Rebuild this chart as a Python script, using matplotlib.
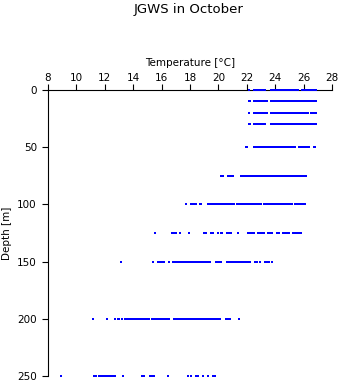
# Import libraries
import matplotlib
matplotlib.use('Agg')
import matplotlib.pyplot as plt

# Data: temperatures [degC] at each depth [m]
depths = [0, 10, 20, 30, 50, 75, 100, 125, 150, 200, 250]

t0 = [22.15, 22.5, 22.6, 22.7, 22.8, 22.9, 23.0, 23.1, 23.2, 23.3,
      23.7, 23.8, 23.9, 24.0, 24.1, 24.2, 24.3, 24.4, 24.5, 24.6, 24.7, 24.8, 24.9,
      25.0, 25.1, 25.2, 25.3, 25.4, 25.5, 25.6,
      25.9, 26.0, 26.1, 26.2, 26.3, 26.4, 26.5, 26.6, 26.7, 26.8, 26.9]
t10 = [22.15, 22.2, 22.5, 22.6, 22.7, 22.8, 22.9, 23.0, 23.1, 23.2, 23.3, 23.4,
       23.7, 23.8, 23.9, 24.0, 24.1, 24.2, 24.3, 24.4, 24.5, 24.6, 24.7, 24.8, 24.9,
       25.0, 25.1, 25.2, 25.3, 25.4, 25.5, 25.6, 25.7, 25.8, 25.9,
       26.0, 26.1, 26.2, 26.3, 26.4, 26.5, 26.6, 26.7, 26.8, 26.9]
t20 = [22.15, 22.5, 22.6, 22.7, 22.8, 22.9, 23.0, 23.1, 23.2, 23.3, 23.4,
       23.7, 23.8, 23.9, 24.0, 24.1, 24.2, 24.3, 24.4, 24.5, 24.6, 24.7, 24.8, 24.9,
       25.0, 25.1, 25.2, 25.3, 25.4, 25.5, 25.6, 25.7, 25.8, 25.9,
       26.0, 26.1, 26.2, 26.3, 26.5, 26.6, 26.7, 26.8, 26.9]
t30 = [22.15, 22.2, 22.5, 22.6, 22.7, 22.8, 22.9, 23.0, 23.1, 23.2, 23.3,
       23.7, 23.8, 23.9, 24.0, 24.1, 24.2, 24.3, 24.4, 24.5, 24.6, 24.7, 24.8, 24.9,
       25.0, 25.1, 25.2, 25.3, 25.4, 25.5, 25.6, 25.7, 25.8, 25.9,
       26.0, 26.1, 26.2, 26.3, 26.4, 26.5, 26.6, 26.7, 26.8, 26.9]
t50 = [21.95, 22.0, 22.5, 22.6, 22.7, 22.8, 22.9, 23.0, 23.1, 23.2, 23.3, 23.4,
       23.5, 23.6, 23.7, 23.8, 23.9, 24.0, 24.1, 24.2, 24.3, 24.4, 24.5, 24.6, 24.7,
       24.8, 24.9, 25.0, 25.1, 25.2, 25.3, 25.4,
       25.7, 25.8, 25.9, 26.0, 26.1, 26.2, 26.3, 26.4, 26.7, 26.8]
t75 = [20.15, 20.3, 20.7, 20.8, 20.9, 21.0,
       21.6, 21.7, 21.8, 21.9, 22.0, 22.1, 22.2, 22.3, 22.4, 22.5, 22.6, 22.7, 22.8,
       22.9, 23.0, 23.1, 23.2, 23.3, 23.4, 23.5, 23.6, 23.7, 23.8, 23.9, 24.0, 24.1,
       24.2, 24.3, 24.4, 24.5, 24.6, 24.7, 24.8, 24.9, 25.0, 25.1, 25.2, 25.3, 25.4,
       25.5, 25.6, 25.7, 25.8, 25.9, 26.0, 26.1, 26.2]
t100 = [17.7, 18.1, 18.2, 18.3, 18.4, 18.7, 18.8,
        19.3, 19.4, 19.5, 19.6, 19.7, 19.8, 19.9, 20.0, 20.1, 20.2, 20.3, 20.4, 20.5,
        20.6, 20.7, 20.8, 20.9, 21.0, 21.1, 21.3, 21.4, 21.5, 21.6, 21.7, 21.8, 21.9,
        22.0, 22.1, 22.2, 22.3, 22.4, 22.5, 22.6, 22.7, 22.8, 22.9, 23.0, 23.2, 23.3,
        23.4, 23.5, 23.6, 23.7, 23.8, 23.9, 24.0, 24.1, 24.2, 24.3, 24.4, 24.5, 24.6,
        24.7, 24.8, 24.9, 25.0, 25.1, 25.2, 25.4, 25.5, 25.6, 25.7, 25.8, 25.9, 26.0, 26.1]
t125 = [15.55, 16.75, 16.9, 17.0, 17.3, 17.9, 19.0, 19.1, 19.5, 19.65,
        20.0, 20.15, 20.25, 20.6, 20.75, 20.9, 21.4,
        22.1, 22.25, 22.4, 22.5, 22.8, 22.95, 23.1, 23.2, 23.5, 23.65, 23.8,
        24.1, 24.25, 24.55, 24.7, 24.85, 24.95, 25.25, 25.4, 25.55, 25.7, 25.8]
t150 = [13.15, 15.4, 15.75, 15.9, 16.05, 16.2, 16.55,
        16.8, 16.9, 17.0, 17.1, 17.2, 17.3, 17.4, 17.5, 17.6, 17.7, 17.8, 17.9, 18.0,
        18.1, 18.2, 18.3, 18.4, 18.5, 18.6, 18.7, 18.8, 18.9, 19.0, 19.1, 19.2, 19.3, 19.4,
        19.8, 19.95, 20.1, 20.2,
        20.6, 20.7, 20.8, 20.9, 21.0, 21.1, 21.2, 21.3, 21.4, 21.5, 21.6, 21.7, 21.8,
        21.9, 22.0, 22.1, 22.2,
        22.6, 22.75, 22.9, 23.25, 23.4, 23.55, 23.8]
t200 = [11.2, 12.15, 12.75, 12.9, 13.0, 13.2,
        13.4, 13.5, 13.6, 13.7, 13.8, 13.9, 14.0, 14.1, 14.2, 14.3, 14.4, 14.5, 14.6,
        14.7, 14.8, 14.9, 15.0, 15.1, 15.35, 15.45, 15.55, 15.65, 15.75, 15.85, 15.95,
        16.05, 16.15, 16.25, 16.35, 16.45, 16.55,
        16.9, 17.0, 17.1, 17.2, 17.3, 17.4, 17.5, 17.6, 17.7, 17.8, 17.9, 18.0, 18.1,
        18.2, 18.3, 18.4, 18.5, 18.6, 18.7, 18.8, 18.9, 19.0, 19.1, 19.2, 19.3, 19.4,
        19.5, 19.6, 19.7, 19.8, 19.9, 20.0, 20.1,
        20.5, 20.65, 20.85, 21.45]
t250 = [8.95, 11.25, 11.4, 11.6, 11.75, 11.9, 12.0, 12.15, 12.3, 12.45, 12.55, 12.75,
        13.3, 14.6, 14.75, 15.15, 15.3, 15.45, 16.45,
        17.85, 18.1, 18.4, 18.55, 18.95, 19.3, 19.6, 19.75]

temps = [t0, t10, t20, t30, t50, t75, t100, t125, t150, t200, t250]

x_ticks = [8, 10, 12, 14, 16, 18, 20, 22, 24, 26, 28]
y_ticks = [0, 50, 100, 150, 200, 250]

plt.rcParams['font.family'] = 'DejaVu Sans'

fig = plt.figure(figsize=(3.41, 3.84), dpi=100)
ax = fig.add_axes([48 / 341, 8 / 384, 284 / 341, 286 / 384])

for d, t in zip(depths, temps):
    ax.plot(t, [d] * len(t), 's', color='blue', ms=2.1, mew=0, clip_on=False, zorder=3)

ax.set_xlim(8, 28)
ax.set_ylim(250, 0)
ax.set_xticks(x_ticks)
ax.set_yticks(y_ticks)
ax.xaxis.tick_top()
ax.xaxis.set_label_position('top')
ax.spines['right'].set_visible(False)
ax.spines['bottom'].set_visible(False)
for s in ['top', 'left']:
    ax.spines[s].set_linewidth(0.8)
ax.tick_params(axis='both', direction='out', length=4, width=0.8, labelsize=7.5)
ax.tick_params(axis='x', pad=1)
ax.tick_params(axis='y', pad=4)
ax.set_xlabel('Temperature [°C]', fontsize=7.5, labelpad=5)
ax.set_ylabel('Depth [m]', fontsize=7.5, labelpad=4)

fig.text(0.554, 1 - 9.5 / 384, 'JGWS in October', ha='center', va='center', fontsize=9.5)

fig.savefig('out.png', dpi=100, facecolor='white')
